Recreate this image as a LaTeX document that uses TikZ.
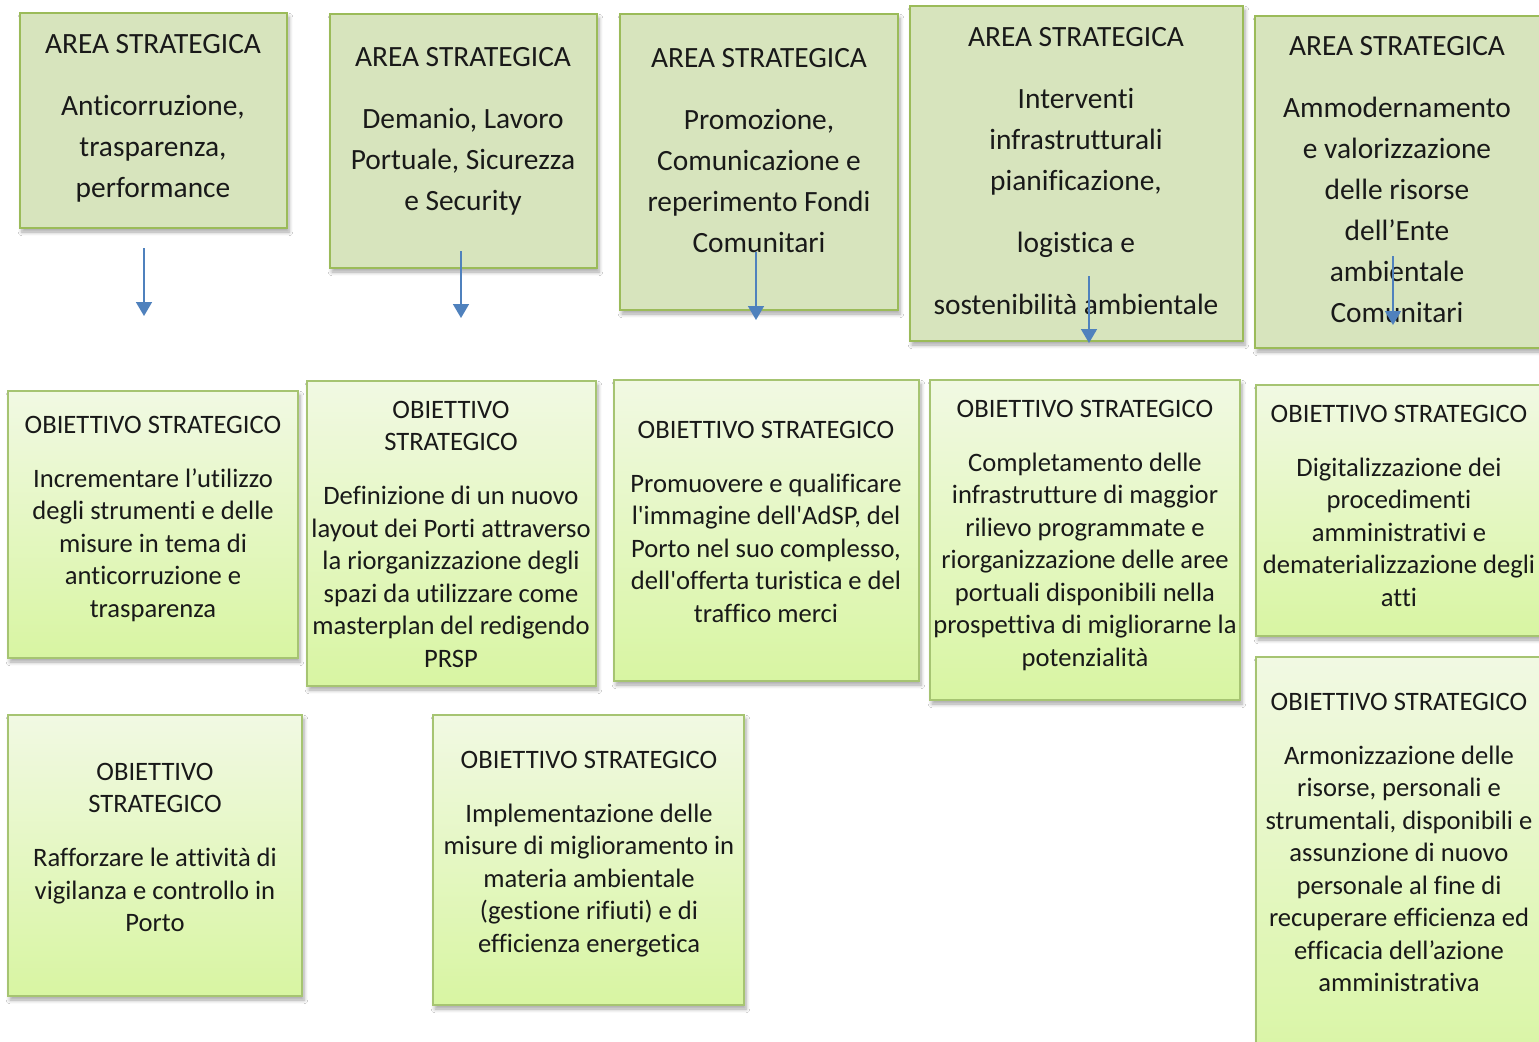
\documentclass[tikz,border=0pt]{standalone}
\usepackage{fontspec}
\setmainfont[Ligatures=TeX,RawFeature={-liga;-clig;-calt;-dlig}]{Carlito}
\usepackage{tikz}
\usetikzlibrary{positioning,arrows.meta,shadows.blur}
\definecolor{ASGreen}{HTML}{D7E4BD}
\definecolor{ASBorder}{HTML}{9BBB59}
\definecolor{OSTop}{HTML}{F1F9E3}
\definecolor{OSBottom}{HTML}{D8F5A2}
\definecolor{OSBorder}{HTML}{A6C472}
\definecolor{ArrBlue}{HTML}{4F81BD}

\begin{document}
\begin{tikzpicture}[
  x=0.5pt, y=-0.5pt,
  area/.style={draw=ASBorder, fill=ASGreen, line width=1pt, inner sep=0pt,
    blur shadow={shadow xshift=1pt, shadow yshift=-2pt, shadow opacity=35, shadow blur steps=5}},
  goal/.style={draw=OSBorder, top color=OSTop, bottom color=OSBottom, line width=1pt, inner sep=0pt,
    blur shadow={shadow xshift=1pt, shadow yshift=-2pt, shadow opacity=35, shadow blur steps=5}},
  areatxt/.style={anchor=north, inner sep=0pt, align=center, text=black!90,
    font=\fontsize{14.7}{20.5}\selectfont},
  goaltxt/.style={anchor=north, inner sep=0pt, align=center, text=black!90,
    font=\fontsize{13.3}{16.25}\selectfont},
  arrow/.style={-{Triangle[length=7pt,width=8pt]}, line width=0.8pt, ArrBlue}
]
\useasboundingbox (0,0) rectangle (1539,1041);
\fill[white] (0,0) rectangle (1539,1041);

% aree strategiche
\node[area, minimum width=133.5pt, minimum height=107.5pt] (a1) at (153.5,120.5) {};
\node[area, minimum width=133.5pt, minimum height=127pt] (a2) at (463.5,141) {};
\node[area, minimum width=139pt, minimum height=148pt] (a3) at (759,162) {};
\node[area, minimum width=166.5pt, minimum height=167.5pt] (a4) at (1076.5,173.5) {};
\node[area, minimum width=162.5pt, minimum height=166pt] (a5) at (1417.5,182) {};

\node[areatxt] (a1t) at (153,34) {AREA STRATEGICA\\[10.5pt] Anticorruzione,\\ trasparenza,\\ performance};
\node[areatxt] (a2t) at (463,47) {AREA STRATEGICA\\[10.5pt] Demanio, Lavoro\\ Portuale, Sicurezza\\ e Security};
\node[areatxt] (a3t) at (759,48) {AREA STRATEGICA\\[10.5pt] Promozione,\\ Comunicazione e\\ reperimento Fondi\\ Comunitari};
\node[areatxt] (a4t) at (1076,27) {AREA STRATEGICA\\[10.5pt] Interventi\\ infrastrutturali\\ pianificazione,\\[10.5pt] logistica e\\[10.5pt] sostenibilità ambientale};
\node[areatxt] (a5t) at (1397,36) {AREA STRATEGICA\\[10.5pt] Ammodernamento\\ e valorizzazione\\ delle risorse\\ dell’Ente\\ ambientale\\ Comunitari};

% obiettivi strategici
\node[goal, minimum width=145pt, minimum height=133.5pt] (o1) at (153,524.5) {};
\node[goal, minimum width=144.5pt, minimum height=152.5pt] (o2) at (451.5,533.5) {};
\node[goal, minimum width=152.5pt, minimum height=150.5pt] (o3) at (766.5,530.5) {};
\node[goal, minimum width=155pt, minimum height=160pt] (o4) at (1085,540) {};
\node[goal, minimum width=162pt, minimum height=125.5pt] (o5) at (1418,510.5) {};
\node[goal, minimum width=162pt, minimum height=211.5pt] (o6) at (1418,868.5) {};
\node[goal, minimum width=147pt, minimum height=140.5pt] (o7) at (155,855.5) {};
\node[goal, minimum width=155.5pt, minimum height=145pt] (o8) at (588.5,860) {};

\node[goaltxt] (o1t) at (153,415.5) {OBIETTIVO STRATEGICO\\[10.75pt] Incrementare l’utilizzo\\ degli strumenti e delle\\ misure in tema di\\ anticorruzione e\\ trasparenza};
\node[goaltxt] (o2t) at (451,400.5) {OBIETTIVO\\ STRATEGICO\\[10.75pt] Definizione di un nuovo\\ layout dei Porti attraverso\\ la riorganizzazione degli\\ spazi da utilizzare come\\ masterplan del redigendo\\ PRSP};
\node[goaltxt] (o3t) at (766,420.5) {OBIETTIVO STRATEGICO\\[10.75pt] Promuovere e qualificare\\ l\textquotesingle immagine dell\textquotesingle AdSP, del\\ Porto nel suo complesso,\\ dell\textquotesingle offerta turistica e del\\ traffico merci};
\node[goaltxt] (o4t) at (1085,399.5) {OBIETTIVO STRATEGICO\\[10.75pt] Completamento delle\\ infrastrutture di maggior\\ rilievo programmate e\\ riorganizzazione delle aree\\ portuali disponibili nella\\ prospettiva di migliorarne la\\ potenzialità};
\node[goaltxt] (o5t) at (1399,404.5) {OBIETTIVO STRATEGICO\\[10.75pt] Digitalizzazione dei\\ procedimenti\\ amministrativi e\\ dematerializzazione degli\\ atti};
\node[goaltxt] (o6t) at (1399,692.5) {OBIETTIVO STRATEGICO\\[10.75pt] Armonizzazione delle\\ risorse, personali e\\ strumentali, disponibili e\\ assunzione di nuovo\\ personale al fine di\\ recuperare efficienza ed\\ efficacia dell’azione\\ amministrativa};
\node[goaltxt] (o7t) at (155,762.5) {OBIETTIVO\\ STRATEGICO\\[10.75pt] Rafforzare le attività di\\ vigilanza e controllo in\\ Porto};
\node[goaltxt] (o8t) at (589,750.5) {OBIETTIVO STRATEGICO\\[10.75pt] Implementazione delle\\ misure di miglioramento in\\ materia ambientale\\ (gestione rifiuti) e di\\ efficienza energetica};

% frecce
\coordinate (f1s) at (144,248);  \coordinate (f1e) at (144,316);
\coordinate (f2s) at (461,251);  \coordinate (f2e) at (461,318);
\coordinate (f3s) at (756,252);  \coordinate (f3e) at (756,320);
\coordinate (f4s) at (1089,276); \coordinate (f4e) at (1089,343);
\coordinate (f5s) at (1393,256); \coordinate (f5e) at (1393,325);
\draw[arrow] (f1s) -- (f1e);
\draw[arrow] (f2s) -- (f2e);
\draw[arrow] (f3s) -- (f3e);
\draw[arrow] (f4s) -- (f4e);
\draw[arrow] (f5s) -- (f5e);
\end{tikzpicture}
\end{document}
